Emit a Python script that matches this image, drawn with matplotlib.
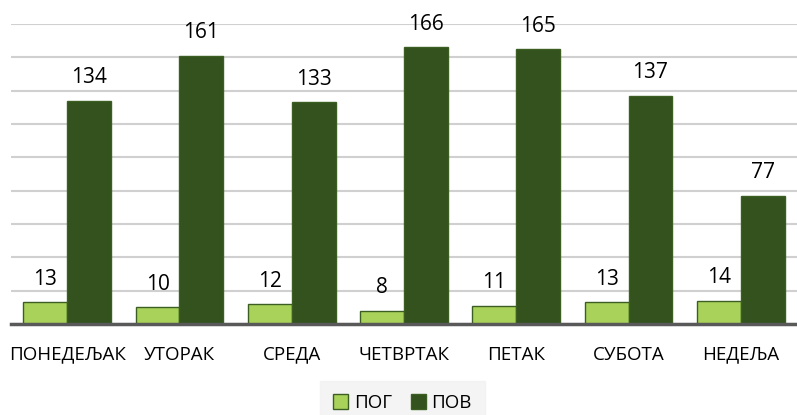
import matplotlib
matplotlib.use("Agg")
import matplotlib.pyplot as plt
import numpy as np

categories = ["ПОНЕДЕЉАК", "УТОРАК", "СРЕДА", "ЧЕТВРТАК", "ПЕТАК", "СУБОТА", "НЕДЕЉА"]
pog = [13, 10, 12, 8, 11, 13, 14]
pov = [134, 161, 133, 166, 165, 137, 77]
series_names = ["ПОГ", "ПОВ"]

plt.rcParams['font.family'] = ['Open Sans', 'DejaVu Sans']

fig = plt.figure(figsize=(7.97, 4.15), dpi=100)
ax = fig.add_axes([0.0138, 0.219, 0.9862, 0.723])

x = np.arange(len(categories))
w = 0.39
c_light = "#A9D25A"
c_dark = "#33521E"
edge = "#3C5E22"

b1 = ax.bar(x - w / 2, pog, w, color=c_light, edgecolor=edge, linewidth=1, label=series_names[0], zorder=3)
b2 = ax.bar(x + w / 2, pov, w, color=c_dark, edgecolor=edge, linewidth=1, label=series_names[1], zorder=3)

for bars, vals in ((b1, pog), (b2, pov)):
    for r, v in zip(bars, vals):
        ax.annotate(str(v), (r.get_x() + r.get_width() / 2, r.get_height()),
                    xytext=(0, 9), textcoords="offset points", ha="center", va="bottom",
                    fontsize=15, color="#000000")

ax.set_xlim(-0.5, len(categories) - 0.5)
ax.set_ylim(0, 180)
ax.set_yticks(np.arange(0, 181, 20))
ax.yaxis.grid(True, color="#D0D0D0", linewidth=1.5, zorder=0)
ax.set_axisbelow(True)
ax.tick_params(axis="y", left=False, labelleft=False)
ax.tick_params(axis="x", bottom=False, pad=12)
ax.set_xticks(x)
ax.set_xticklabels(categories, fontsize=13.5)
for s in ("left", "right", "top"):
    ax.spines[s].set_visible(False)
ax.spines["bottom"].set_color("#595959")
ax.spines["bottom"].set_linewidth(2.5)
ax.spines["bottom"].set_zorder(4)

leg = fig.legend(handles=[b1, b2], labels=series_names, loc="center",
                 bbox_to_anchor=(0.505, 1 - 403 / 415), ncol=2, frameon=True, fontsize=13.5,
                 handlelength=0.8, handleheight=0.8, handletextpad=0.3, columnspacing=1.0,
                 borderpad=0.7, fancybox=False)
leg.get_frame().set_facecolor("#F2F2F2")
leg.get_frame().set_edgecolor("#F2F2F2")

fig.savefig("out.png", dpi=100)
